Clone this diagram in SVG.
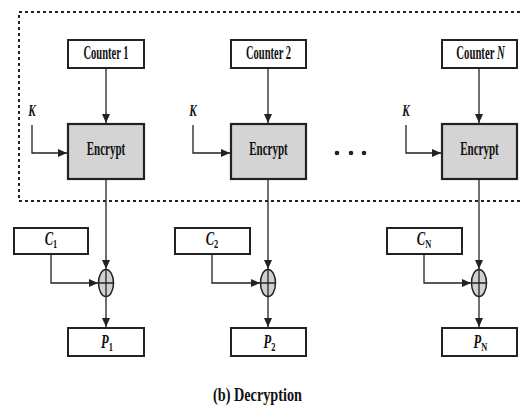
<svg xmlns="http://www.w3.org/2000/svg" width="521" height="408" viewBox="0 0 521 408">
<defs>
<marker id="ah" markerWidth="10" markerHeight="8" refX="9" refY="4" orient="auto" markerUnits="userSpaceOnUse">
<path d="M0,0 L9,4 L0,8 Z" fill="#222"/>
</marker>
<style>
.box{fill:#fff;stroke:#222;stroke-width:2}
.enc{fill:#d4d4d4;stroke:#222;stroke-width:2.2}
.ln{fill:none;stroke:#222;stroke-width:1.3}
.ar{fill:none;stroke:#222;stroke-width:1.3;marker-end:url(#ah)}
.t{font-family:"Liberation Serif","Times New Roman",serif;font-weight:bold;font-size:19px;fill:#111;text-anchor:middle}
.it{font-style:italic}
.k{font-size:16px}
.v{font-size:18px}
.sub{font-size:12px;font-style:normal}
.xor{fill:#d0d0d0;stroke:#222;stroke-width:1.5}
.dash{fill:none;stroke:#222;stroke-width:2;stroke-dasharray:3 3}
</style>
</defs>
<rect id="frame" class="dash" x="19" y="12" width="510" height="189"/>
<g id="counter1"><rect class="box" x="68" y="40" width="76" height="28"/><text class="t" transform="translate(106,59) scale(0.555,1)">Counter 1</text></g>
<g id="counter2"><rect class="box" x="231" y="40" width="75" height="28"/><text class="t" transform="translate(268.5,59) scale(0.555,1)">Counter 2</text></g>
<g id="counterN"><rect class="box" x="442" y="40" width="75" height="28"/><text class="t" transform="translate(480.5,59) scale(0.565,1)">Counter <tspan class="it">N</tspan></text></g>
<g id="encrypt1"><rect class="enc" x="68" y="124" width="76" height="55"/><text class="t" transform="translate(106,155) scale(0.58,1)">Encrypt</text></g>
<g id="encrypt2"><rect class="enc" x="231" y="124" width="75" height="55"/><text class="t" transform="translate(268.5,155) scale(0.58,1)">Encrypt</text></g>
<g id="encryptN"><rect class="enc" x="442" y="124" width="75" height="55"/><text class="t" transform="translate(479.5,155) scale(0.58,1)">Encrypt</text></g>
<g id="k1"><text class="t it k" transform="translate(32,116) scale(0.7,1)">K</text></g>
<g id="k2"><text class="t it k" transform="translate(193,116) scale(0.7,1)">K</text></g>
<g id="kN"><text class="t it k" transform="translate(406,116) scale(0.7,1)">K</text></g>
<g id="dots" fill="#222"><circle cx="337" cy="153" r="2.3"/><circle cx="351" cy="153" r="2.3"/><circle cx="364" cy="153" r="2.3"/></g>
<g id="c1"><rect class="box" x="14" y="228" width="74" height="26"/><text class="t it v" transform="translate(51,245) scale(0.7,1)">C<tspan class="sub" dy="3">1</tspan></text></g>
<g id="c2"><rect class="box" x="175" y="228" width="75" height="26"/><text class="t it v" transform="translate(212,245) scale(0.7,1)">C<tspan class="sub" dy="3">2</tspan></text></g>
<g id="cN"><rect class="box" x="387" y="228" width="75" height="26"/><text class="t it v" transform="translate(424,245) scale(0.7,1)">C<tspan class="sub it" dy="3">N</tspan></text></g>
<g id="xor1"><ellipse class="xor" cx="106" cy="283" rx="7.5" ry="13.5"/><path class="ln" d="M98.5,283H113.5M106,269.5V296.5"/></g>
<g id="xor2"><ellipse class="xor" cx="268" cy="283" rx="7.5" ry="13.5"/><path class="ln" d="M260.5,283H275.5M268,269.5V296.5"/></g>
<g id="xorN"><ellipse class="xor" cx="479" cy="283" rx="7.5" ry="13.5"/><path class="ln" d="M471.5,283H486.5M479,269.5V296.5"/></g>
<g id="p1"><rect class="box" x="68" y="328" width="76" height="28"/><text class="t it v" transform="translate(107,348) scale(0.7,1)">P<tspan class="sub" dy="3">1</tspan></text></g>
<g id="p2"><rect class="box" x="231" y="328" width="75" height="28"/><text class="t it v" transform="translate(269.5,348) scale(0.7,1)">P<tspan class="sub" dy="3">2</tspan></text></g>
<g id="pN"><rect class="box" x="442" y="328" width="75" height="28"/><text class="t it v" transform="translate(480.5,348) scale(0.7,1)">P<tspan class="sub it" dy="3">N</tspan></text></g>
<g id="connectors">
<path class="ar" d="M106,68V123"/>
<path class="ar" d="M268,68V123"/>
<path class="ar" d="M479,68V123"/>
<path class="ar" d="M32,125V153H67"/>
<path class="ar" d="M193,125V153H230"/>
<path class="ar" d="M406,125V153H441"/>
<path class="ar" d="M106,179V269"/>
<path class="ar" d="M268,179V269"/>
<path class="ar" d="M479,179V269"/>
<path class="ar" d="M51,254V283H98"/>
<path class="ar" d="M212,254V283H260"/>
<path class="ar" d="M424,254V283H471"/>
<path class="ar" d="M106,297V327"/>
<path class="ar" d="M268,297V327"/>
<path class="ar" d="M479,297V327"/>
</g>
<text id="caption" class="t" transform="translate(257.5,401) scale(0.75,1)">(b) Decryption</text>
</svg>
